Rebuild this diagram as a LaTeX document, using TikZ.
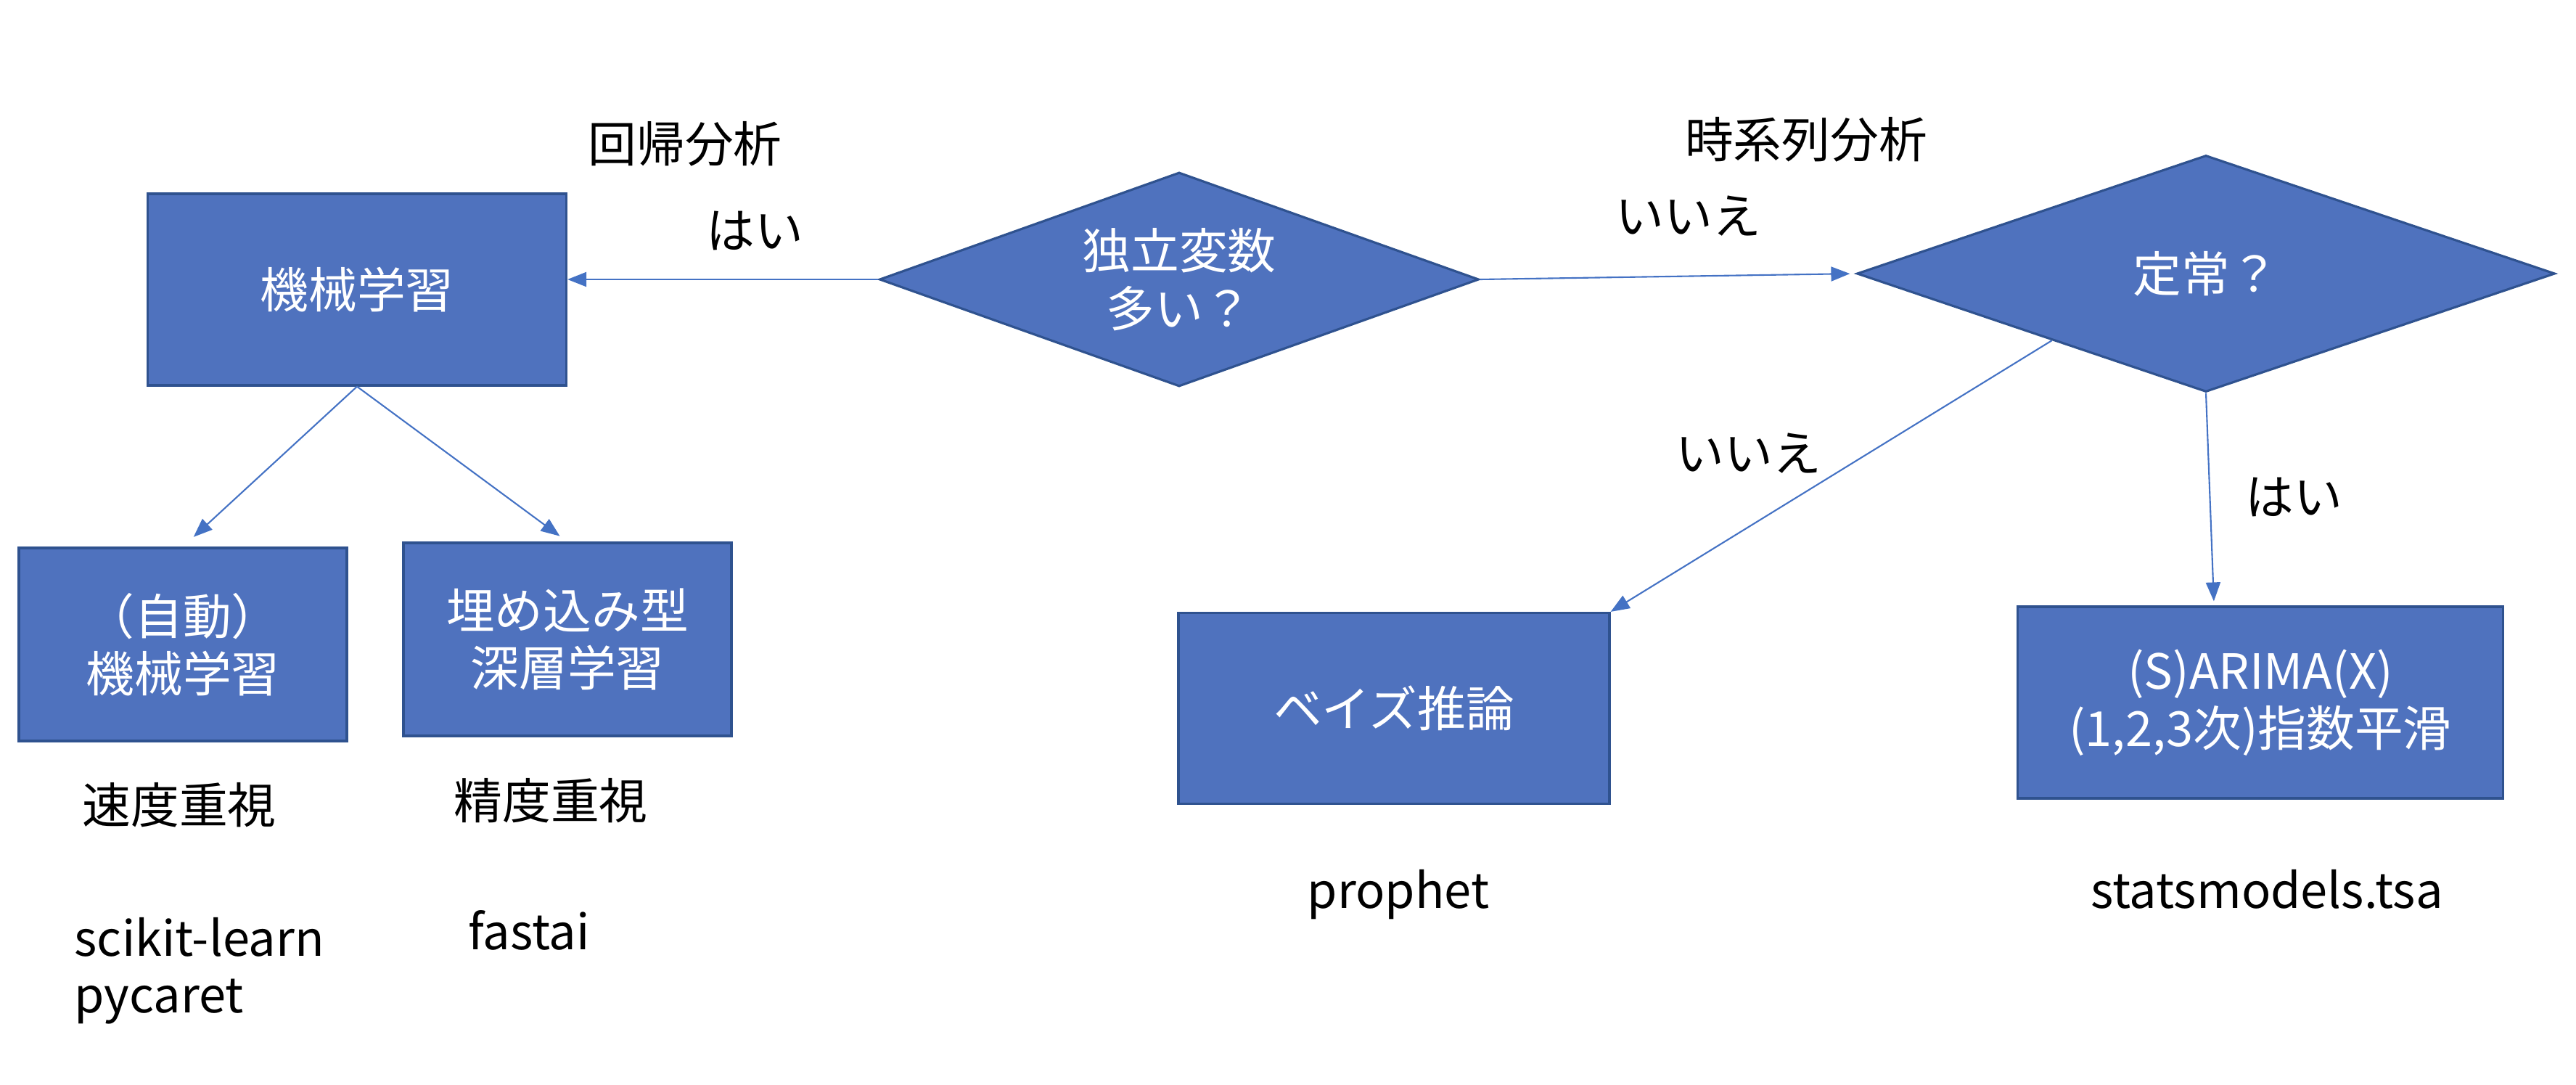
\documentclass[tikz,border=0pt]{standalone}
\usepackage{fontspec}
\setmainfont{Noto Sans CJK JP}
\usetikzlibrary{shapes.geometric,arrows.meta,calc}
\definecolor{boxfill}{HTML}{4F72BE}
\definecolor{boxline}{HTML}{2F528F}
\definecolor{arrowblue}{HTML}{4472C4}
\newcommand{\jpfont}{\fontsize{19pt}{22.6pt}\selectfont}
\begin{document}
\begin{tikzpicture}[>={Triangle[length=0.26cm,width=0.2cm]}]

% --- Stijlen ---
\tikzset{
    procbox/.style={rectangle, fill=boxfill, draw=boxline, line width=0.9pt, text=white, align=center, inner sep=0pt, font=\jpfont},
    decision/.style={diamond, fill=boxfill, draw=boxline, line width=0.9pt, text=white, align=center, inner sep=0pt, font=\jpfont},
    txt/.style={inner sep=0pt, text=black, font=\jpfont},
    arrow/.style={->, draw=arrowblue, line width=0.6pt}
}

    \useasboundingbox (0,0) rectangle (35.5,14.94);

    % Beslissingen
    \node[decision, aspect=2.8, minimum width=8.26cm, minimum height=2.95cm] (indep) at (16.25, 11.09) {独立変数\\多い？};
    \node[decision, aspect=2.95, minimum width=9.62cm, minimum height=3.26cm] (stat) at (30.40, 11.17) {定常？};

    % Linkertak: regressie
    \node[procbox, minimum width=5.77cm, minimum height=2.64cm] (ml) at (4.92, 10.95) {機械学習};
    \node[procbox, minimum width=4.52cm, minimum height=2.66cm] (automl) at (2.52, 6.06) {（自動）\\機械学習};
    \node[procbox, minimum width=4.52cm, minimum height=2.66cm] (dl) at (7.82, 6.13) {埋め込み型\\深層学習};

    % Rechtertak: tijdreeksen
    \node[procbox, minimum width=5.94cm, minimum height=2.63cm] (bayes) at (19.21, 5.18) {ベイズ推論};
    \node[procbox, minimum width=6.69cm, minimum height=2.64cm] (arima) at (31.15, 5.26) {(S)ARIMA(X)\\(1,2,3次)指数平滑};

    % Labels
    \node[txt] (reg) at (9.44, 12.96) {回帰分析};
    \node[txt] (ts) at (24.89, 13.02) {時系列分析};
    \node[txt] (yes1) at (10.40, 11.76) {はい};
    \node[txt] (no1) at (23.27, 11.96) {いいえ};
    \node[txt] (no2) at (24.10, 8.69) {いいえ};
    \node[txt] (yes2) at (31.61, 8.09) {はい};
    \node[txt] (speed) at (2.47, 3.85) {速度重視};
    \node[txt] (acc) at (7.59, 3.91) {精度重視};
    \node[txt, align=left, anchor=west, font=\fontsize{19pt}{22.2pt}\selectfont] (sk) at (1.02, 1.56) {scikit-learn\\pycaret};
    \node[txt] (fa) at (7.29, 2.12) {fastai};
    \node[txt] (pr) at (19.27, 2.61) {prophet};
    \node[txt] (sm) at (31.24, 2.69) {statsmodels.tsa};

    % Pijlen
    \draw[arrow] (indep.west) -- (indep.west -| ml.east);
    \draw[arrow, shorten >=0.08cm] (indep.east) -- (stat.west);
    \draw[arrow, shorten >=0.2cm] (ml.south) -- (automl.north);
    \draw[arrow, shorten >=0.13cm] (ml.south) -- (dl.north);
    \draw[arrow] ($(stat.west)!0.56!(stat.south)$) -- (bayes.north east);
    \draw[arrow, shorten >=0.06cm] (stat.south) -- ($(arima.north west)!0.405!(arima.north east)$);

\end{tikzpicture}
\end{document}
